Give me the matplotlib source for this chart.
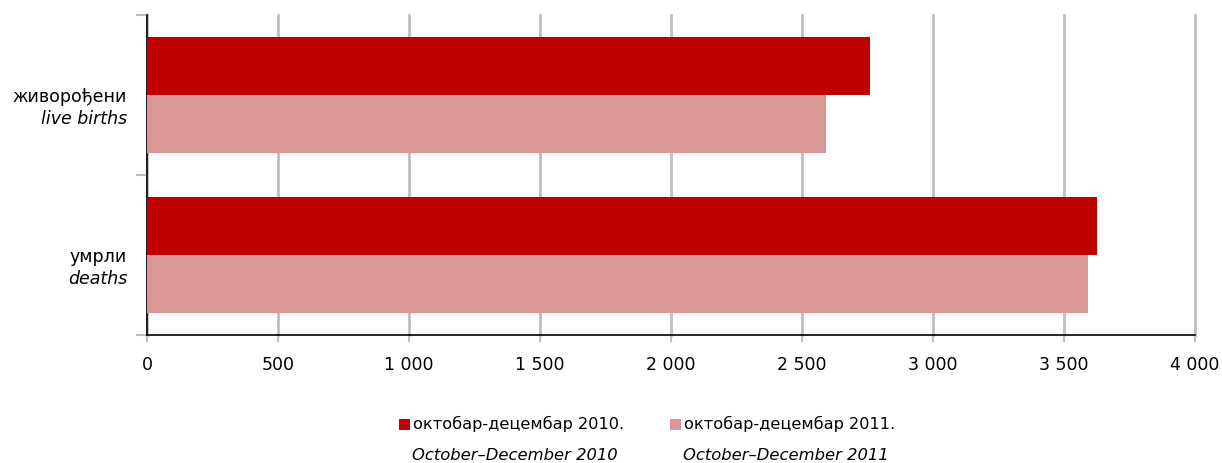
import matplotlib
matplotlib.use("Agg")
import matplotlib.pyplot as plt
from matplotlib.patches import Rectangle
import numpy as np

categories_sr = ["живорођени", "умрли"]
categories_en = ["live births", "deaths"]
series_sr = ["октобар-децембар 2010.", "октобар-децембар 2011."]
series_en = ["October–December 2010", "October–December 2011"]
values_2010 = [2760, 3626]
values_2011 = [2592, 3592]
colors = ["#C00000", "#D99795"]
xticks = [0, 500, 1000, 1500, 2000, 2500, 3000, 3500, 4000]

plt.rcParams['font.family'] = ['DejaVu Sans']
fig = plt.figure(figsize=(12.22, 4.63), dpi=100)
ax = fig.add_axes([0.1203, 0.2765, 0.8576, 0.691])

y = np.arange(len(categories_sr))
h = 0.36
ax.barh(y - h/2, values_2010, height=h, color=colors[0], zorder=3)
ax.barh(y + h/2, values_2011, height=h, color=colors[1], zorder=3)

ax.set_xlim(0, 4000)
ax.set_ylim(1.5, -0.5)
ax.set_xticks(xticks)
ax.set_xticklabels([f"{v:,}".replace(",", " ") for v in xticks], fontsize=12.5)
ax.xaxis.grid(True, color="#BFBFBF", linewidth=2, zorder=0)
for gl in ax.get_xgridlines():
    gl.set_clip_on(False)
ax.set_axisbelow(True)
ax.tick_params(axis='x', length=5, color="#BFBFBF", width=1.5, pad=10)
ax.set_yticks([-0.5, 0.5, 1.5])
ax.set_yticklabels([])
ax.tick_params(axis='y', length=8, color="#BFBFBF", width=1.5, direction='out')
for s in ["top", "right"]:
    ax.spines[s].set_visible(False)
for s in ["left", "bottom"]:
    ax.spines[s].set_color("black")
    ax.spines[s].set_linewidth(1.2)

trans = ax.get_yaxis_transform()
for i in range(len(categories_sr)):
    ax.text(-0.019, i + 0.015, categories_sr[i], transform=trans, ha='right', va='center', fontsize=12.5)
    ax.text(-0.019, i + 0.15, categories_en[i], transform=trans, ha='right', va='center', fontsize=12.5, style='italic')

# legend
leg_x = [0.3265, 0.5483]
for i in range(2):
    fig.patches.append(Rectangle((leg_x[i], 1 - 430/463), 11/1222, 11/463, transform=fig.transFigure,
                                 facecolor=colors[i], edgecolor='none'))
    fig.text(leg_x[i] + 14/1222, 1 - 424/463, series_sr[i], ha='left', va='center', fontsize=11.6)
    fig.text(leg_x[i] + 13/1222, 1 - 455/463, series_en[i], ha='left', va='center', fontsize=11.8, style='italic')

fig.savefig("out.png", dpi=100)
